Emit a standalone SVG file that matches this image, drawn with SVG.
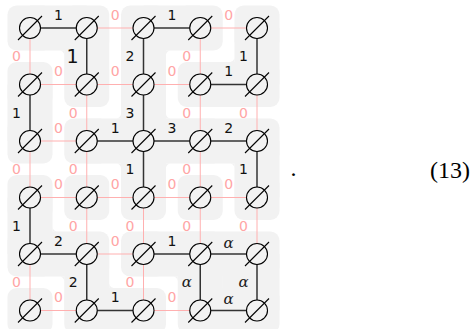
<svg xmlns="http://www.w3.org/2000/svg" width="472" height="329" viewBox="0 0 472 329">
<style>
.cell, .bg rect, .bg path { fill: #f2f2f2; }
.pk { stroke: #ffb0b0; stroke-width: 1; fill: none; }
.bk { stroke: #333333; stroke-width: 1.5; fill: none; }
.ring { fill: #f2f2f2; stroke: #000000; stroke-width: 1.1; }
.slash { stroke: #000000; stroke-width: 1.1; }
.l0 { font-family: "DejaVu Sans", sans-serif; font-size: 14px; fill: #ffa5a5; text-anchor: middle; }
.l1 { font-family: "DejaVu Sans", sans-serif; font-size: 14px; fill: #111111; text-anchor: middle; }
.la { font-family: "DejaVu Serif", serif; font-style: italic; font-size: 15px; fill: #222222; text-anchor: middle; }
.eq { font-family: "Liberation Serif", serif; font-size: 24px; fill: #000000; }
</style>
<defs>
<g id="nd"><circle class="ring" cx="0" cy="0" r="10.5"/><line class="slash" x1="-12" y1="12" x2="12" y2="-12"/></g>
<rect id="c" class="cell" x="-22.5" y="-22.5" width="45" height="45" rx="9"/>
</defs>

<g id="backgrounds" class="bg">
<use href="#c" x="30" y="28"/><use href="#c" x="86.75" y="28"/><use href="#c" x="143.5" y="28"/><use href="#c" x="200.25" y="28"/><use href="#c" x="257" y="28"/>
<use href="#c" x="30" y="84.5"/><use href="#c" x="86.75" y="84.5"/><use href="#c" x="143.5" y="84.5"/><use href="#c" x="200.25" y="84.5"/><use href="#c" x="257" y="84.5"/>
<use href="#c" x="30" y="141"/><use href="#c" x="86.75" y="141"/><use href="#c" x="143.5" y="141"/><use href="#c" x="200.25" y="141"/><use href="#c" x="257" y="141"/>
<use href="#c" x="30" y="197.5"/><use href="#c" x="86.75" y="197.5"/><use href="#c" x="143.5" y="197.5"/><use href="#c" x="200.25" y="197.5"/><use href="#c" x="257" y="197.5"/>
<use href="#c" x="30" y="254"/><use href="#c" x="86.75" y="254"/><use href="#c" x="143.5" y="254"/><use href="#c" x="200.25" y="254"/><use href="#c" x="257" y="254"/>
<use href="#c" x="30" y="310.5"/><use href="#c" x="86.75" y="310.5"/><use href="#c" x="143.5" y="310.5"/><use href="#c" x="200.25" y="310.5"/><use href="#c" x="257" y="310.5"/>
<rect x="30" y="5.5" width="56.75" height="45"/>
<rect x="143.5" y="5.5" width="56.75" height="45"/>
<rect x="200.25" y="62" width="56.75" height="45"/>
<rect x="86.75" y="118.5" width="56.75" height="45"/>
<rect x="143.5" y="118.5" width="56.75" height="45"/>
<rect x="200.25" y="118.5" width="56.75" height="45"/>
<rect x="30" y="231.5" width="56.75" height="45"/>
<rect x="143.5" y="231.5" width="56.75" height="45"/>
<rect x="200.25" y="231.5" width="56.75" height="45"/>
<rect x="86.75" y="288" width="56.75" height="45"/>
<rect x="200.25" y="288" width="56.75" height="45"/>
<rect x="64.25" y="28" width="45" height="56.5"/>
<rect x="121" y="28" width="45" height="56.5"/>
<rect x="234.5" y="28" width="45" height="56.5"/>
<rect x="7.5" y="84.5" width="45" height="56.5"/>
<rect x="121" y="84.5" width="45" height="56.5"/>
<rect x="121" y="141" width="45" height="56.5"/>
<rect x="234.5" y="141" width="45" height="56.5"/>
<rect x="7.5" y="197.5" width="45" height="56.5"/>
<rect x="64.25" y="254" width="45" height="56.5"/>
<rect x="177.75" y="254" width="45" height="56.5"/>
<rect x="234.5" y="254" width="45" height="56.5"/>
<rect x="222.5" y="276" width="12.5" height="12.5"/>
<path d="M59.25,50.5 C62.01,50.5 64.25,52.74 64.25,55.5 L64.25,50.5Z"/>
<path d="M171,50.5 C168.24,50.5 166,52.74 166,55.5 L166,50.5Z"/>
<path d="M116,118.5 C118.76,118.5 121,116.26 121,113.5 L121,118.5Z"/>
<path d="M171,118.5 C168.24,118.5 166,116.26 166,113.5 L166,118.5Z"/>
<path d="M116,163.5 C118.76,163.5 121,165.74 121,168.5 L121,163.5Z"/>
<path d="M171,163.5 C168.24,163.5 166,165.74 166,168.5 L166,163.5Z"/>
<path d="M229.5,163.5 C232.26,163.5 234.5,165.74 234.5,168.5 L234.5,163.5Z"/>
<path d="M229.5,62 C232.26,62 234.5,59.76 234.5,57 L234.5,62Z"/>
<path d="M57.5,231.5 C54.74,231.5 52.5,229.26 52.5,226.5 L52.5,231.5Z"/>
<path d="M59.25,276.5 C62.01,276.5 64.25,278.74 64.25,281.5 L64.25,276.5Z"/>
<path d="M114.25,288 C111.49,288 109.25,285.76 109.25,283 L109.25,288Z"/>
<path d="M172.75,276.5 C175.51,276.5 177.75,278.74 177.75,281.5 L177.75,276.5Z"/>
</g>

<g id="connectors">
<g class="pk">
<line x1="86.75" y1="28" x2="143.5" y2="28"/>
<line x1="200.25" y1="28" x2="257" y2="28"/>
<line x1="30" y1="84.5" x2="86.75" y2="84.5"/>
<line x1="86.75" y1="84.5" x2="143.5" y2="84.5"/>
<line x1="143.5" y1="84.5" x2="200.25" y2="84.5"/>
<line x1="30" y1="141" x2="86.75" y2="141"/>
<line x1="30" y1="197.5" x2="86.75" y2="197.5"/>
<line x1="86.75" y1="197.5" x2="143.5" y2="197.5"/>
<line x1="143.5" y1="197.5" x2="200.25" y2="197.5"/>
<line x1="200.25" y1="197.5" x2="257" y2="197.5"/>
<line x1="86.75" y1="254" x2="143.5" y2="254"/>
<line x1="30" y1="310.5" x2="86.75" y2="310.5"/>
<line x1="143.5" y1="310.5" x2="200.25" y2="310.5"/>
<line x1="30" y1="28" x2="30" y2="84.5"/>
<line x1="200.25" y1="28" x2="200.25" y2="84.5"/>
<line x1="86.75" y1="84.5" x2="86.75" y2="141"/>
<line x1="200.25" y1="84.5" x2="200.25" y2="141"/>
<line x1="257" y1="84.5" x2="257" y2="141"/>
<line x1="30" y1="141" x2="30" y2="197.5"/>
<line x1="86.75" y1="141" x2="86.75" y2="197.5"/>
<line x1="200.25" y1="141" x2="200.25" y2="197.5"/>
<line x1="86.75" y1="197.5" x2="86.75" y2="254"/>
<line x1="143.5" y1="197.5" x2="143.5" y2="254"/>
<line x1="200.25" y1="197.5" x2="200.25" y2="254"/>
<line x1="257" y1="197.5" x2="257" y2="254"/>
<line x1="30" y1="254" x2="30" y2="310.5"/>
<line x1="143.5" y1="254" x2="143.5" y2="310.5"/>
</g>
<g class="bk">
<line x1="30" y1="28" x2="86.75" y2="28"/>
<line x1="143.5" y1="28" x2="200.25" y2="28"/>
<line x1="200.25" y1="84.5" x2="257" y2="84.5"/>
<line x1="86.75" y1="141" x2="143.5" y2="141"/>
<line x1="143.5" y1="141" x2="200.25" y2="141"/>
<line x1="200.25" y1="141" x2="257" y2="141"/>
<line x1="30" y1="254" x2="86.75" y2="254"/>
<line x1="143.5" y1="254" x2="200.25" y2="254"/>
<line x1="200.25" y1="254" x2="257" y2="254"/>
<line x1="86.75" y1="310.5" x2="143.5" y2="310.5"/>
<line x1="200.25" y1="310.5" x2="257" y2="310.5"/>
<line x1="86.75" y1="28" x2="86.75" y2="84.5"/>
<line x1="143.5" y1="28" x2="143.5" y2="84.5"/>
<line x1="257" y1="28" x2="257" y2="84.5"/>
<line x1="30" y1="84.5" x2="30" y2="141"/>
<line x1="143.5" y1="84.5" x2="143.5" y2="141"/>
<line x1="143.5" y1="141" x2="143.5" y2="197.5"/>
<line x1="257" y1="141" x2="257" y2="197.5"/>
<line x1="30" y1="197.5" x2="30" y2="254"/>
<line x1="86.75" y1="254" x2="86.75" y2="310.5"/>
<line x1="200.25" y1="254" x2="200.25" y2="310.5"/>
<line x1="257" y1="254" x2="257" y2="310.5"/>
</g>
<g class="l0">
<text x="115.1" y="19.5">0</text>
<text x="228.6" y="19.5">0</text>
<text x="58.4" y="76">0</text>
<text x="115.1" y="76">0</text>
<text x="171.9" y="76">0</text>
<text x="58.4" y="132.5">0</text>
<text x="58.4" y="189">0</text>
<text x="115.1" y="189">0</text>
<text x="171.9" y="189">0</text>
<text x="228.6" y="189">0</text>
<text x="115.1" y="245.5">0</text>
<text x="58.4" y="302">0</text>
<text x="171.9" y="302">0</text>
<text x="16.5" y="61.35">0</text>
<text x="186.75" y="61.35">0</text>
<text x="73.25" y="117.85">0</text>
<text x="186.75" y="117.85">0</text>
<text x="243.5" y="117.85">0</text>
<text x="16.5" y="174.35">0</text>
<text x="73.25" y="174.35">0</text>
<text x="186.75" y="174.35">0</text>
<text x="73.25" y="230.85">0</text>
<text x="130" y="230.85">0</text>
<text x="186.75" y="230.85">0</text>
<text x="243.5" y="230.85">0</text>
<text x="16.5" y="287.35">0</text>
<text x="130" y="287.35">0</text>
</g>
<g class="l1">
<text x="58.4" y="19.5">1</text>
<text x="171.9" y="19.5">1</text>
<text x="228.6" y="76">1</text>
<text x="115.1" y="132.5">1</text>
<text x="171.9" y="132.5">3</text>
<text x="228.6" y="132.5">2</text>
<text x="58.4" y="245.5">2</text>
<text x="171.9" y="245.5">1</text>
<text x="115.1" y="302">1</text>
<text x="72.5" y="63.3" style="font-size:19px">1</text>
<text x="130" y="61.35">2</text>
<text x="243.5" y="61.35">1</text>
<text x="16.5" y="117.85">1</text>
<text x="130" y="117.85">3</text>
<text x="130" y="174.35">1</text>
<text x="243.5" y="174.35">1</text>
<text x="16.5" y="230.85">1</text>
<text x="73.25" y="287.35">2</text>
</g>
<g class="la">
<text x="228.6" y="247.5">α</text>
<text x="228.6" y="304">α</text>
<text x="186.75" y="286.75">α</text>
<text x="243.5" y="286.75">α</text>
</g>
</g>

<g id="nodes">
<use id="n00" href="#nd" x="30" y="28"/><use id="n10" href="#nd" x="86.75" y="28"/><use id="n20" href="#nd" x="143.5" y="28"/><use id="n30" href="#nd" x="200.25" y="28"/><use id="n40" href="#nd" x="257" y="28"/>
<use id="n01" href="#nd" x="30" y="84.5"/><use id="n11" href="#nd" x="86.75" y="84.5"/><use id="n21" href="#nd" x="143.5" y="84.5"/><use id="n31" href="#nd" x="200.25" y="84.5"/><use id="n41" href="#nd" x="257" y="84.5"/>
<use id="n02" href="#nd" x="30" y="141"/><use id="n12" href="#nd" x="86.75" y="141"/><use id="n22" href="#nd" x="143.5" y="141"/><use id="n32" href="#nd" x="200.25" y="141"/><use id="n42" href="#nd" x="257" y="141"/>
<use id="n03" href="#nd" x="30" y="197.5"/><use id="n13" href="#nd" x="86.75" y="197.5"/><use id="n23" href="#nd" x="143.5" y="197.5"/><use id="n33" href="#nd" x="200.25" y="197.5"/><use id="n43" href="#nd" x="257" y="197.5"/>
<use id="n04" href="#nd" x="30" y="254"/><use id="n14" href="#nd" x="86.75" y="254"/><use id="n24" href="#nd" x="143.5" y="254"/><use id="n34" href="#nd" x="200.25" y="254"/><use id="n44" href="#nd" x="257" y="254"/>
<use id="n05" href="#nd" x="30" y="310.5"/><use id="n15" href="#nd" x="86.75" y="310.5"/><use id="n25" href="#nd" x="143.5" y="310.5"/><use id="n35" href="#nd" x="200.25" y="310.5"/><use id="n45" href="#nd" x="257" y="310.5"/>
</g>

<text class="eq" x="290.5" y="176">.</text>
<text class="eq" x="470" y="178" text-anchor="end">(13)</text>
</svg>
